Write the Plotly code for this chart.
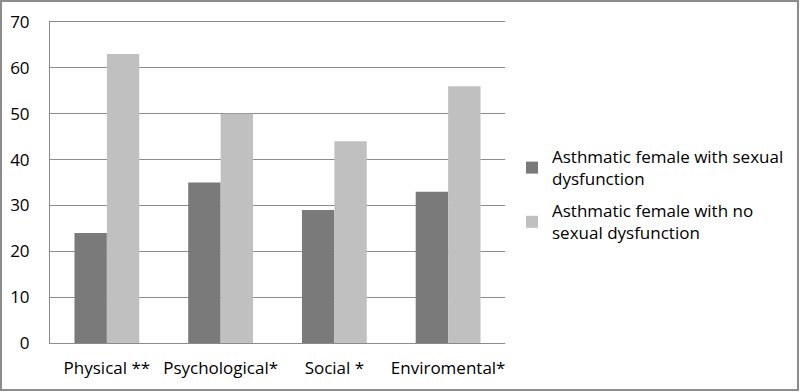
import plotly.graph_objects as go

categories = ["Physical **", "Psychological*", "Social *", "Enviromental*"]
with_dysfunction = [24, 35, 29, 33]
no_dysfunction = [63, 50, 44, 56]
series_names = ["Asthmatic female with sexual<br>dysfunction",
                "Asthmatic female with no<br>sexual dysfunction"]
y_ticks = [0, 10, 20, 30, 40, 50, 60, 70]

FONT = "Open Sans"
FS = 17
W, H = 800, 392
ML, MR, MT, MB = 50, 295, 22, 49

fig = go.Figure()
fig.add_trace(go.Bar(x=categories, y=with_dysfunction, name=series_names[0],
                     legendgroup="a",
                     marker=dict(color="#7a7a7a", line=dict(width=0))))
fig.add_trace(go.Bar(x=categories, y=no_dysfunction, name=series_names[1],
                     legendgroup="b",
                     marker=dict(color="#c0c0c0", line=dict(width=0))))

pw = W - ML - MR
ph = H - MT - MB
fig.update_layout(
    width=W, height=H,
    margin=dict(l=ML, r=MR, t=MT, b=MB, pad=0, autoexpand=False),
    paper_bgcolor="white", plot_bgcolor="white",
    barmode="group", bargap=0.43, bargroupgap=0,
    font=dict(family=FONT, size=FS, color="#000000"),
    showlegend=True,
    legend=dict(x=(512 - ML) / pw, xanchor="left", y=(H - MB - 195) / ph, yanchor="middle",
                font=dict(family=FONT, size=FS, color="#000000"),
                tracegroupgap=7,
                itemsizing="constant", bgcolor="rgba(0,0,0,0)"),
    xaxis=dict(showline=True, mirror=True, linecolor="#8c8c8c", linewidth=1, ticks="",
               ticklabelstandoff=10, tickfont=dict(size=FS), fixedrange=True),
    yaxis=dict(range=[0, 70], tickvals=y_ticks, showgrid=True, gridcolor="#8c8c8c",
               gridwidth=1, showline=True, linecolor="#8c8c8c", linewidth=1,
               ticks="", ticklabelstandoff=16, tickfont=dict(size=FS), zeroline=False,
               fixedrange=True),
    shapes=[dict(type="rect", xref="paper", yref="paper",
                 x0=(1 - ML) / pw, x1=(W - 2 - ML) / pw,
                 y0=-(MB - 2) / ph, y1=1 + (MT - 1) / ph,
                 line=dict(color="#8c8c8c", width=2), fillcolor="rgba(0,0,0,0)")],
)

fig.write_html("out.html", config={"displayModeBar": False},
               post_script="document.body.style.margin='0';")
